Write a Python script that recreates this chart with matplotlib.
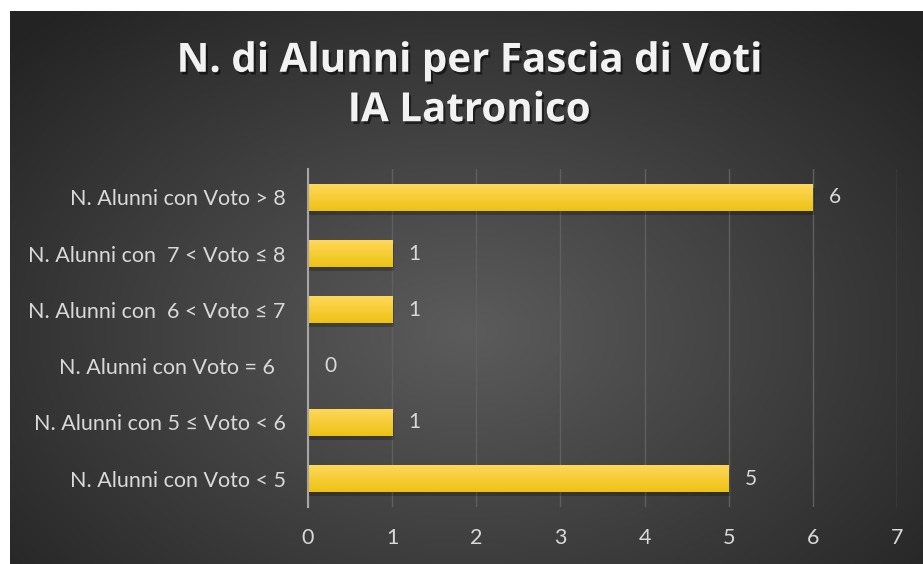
import numpy as np
import matplotlib.pyplot as plt
from matplotlib import patheffects as pe

categories = ['N. Alunni con Voto < 5', 'N. Alunni con 5 ≤ Voto < 6',
              'N. Alunni con Voto = 6  ', 'N. Alunni con  6 < Voto ≤ 7',
              'N. Alunni con  7 < Voto ≤ 8', 'N. Alunni con Voto > 8']
values = [5, 1, 0, 1, 1, 6]
x_ticks = [0, 1, 2, 3, 4, 5, 6, 7]
title = 'N. di Alunni per Fascia di Voti\nIA Latronico'

plt.rcParams['font.family'] = ['Lato', 'DejaVu Sans']

fig = plt.figure(figsize=(9.23, 5.64), dpi=100)
fig.patch.set_facecolor('white')

# radial gradient background (dark chart area, white margin top/left)
bg = fig.add_axes([10 / 923, 0, 913 / 923, 553 / 564])
bg.set_axis_off()
yy, xx = np.mgrid[0:1:300j, 0:1:500j]
r = np.sqrt(((xx - 0.5) / 0.8) ** 2 + ((yy - 0.42) / 0.9) ** 2)
shade = np.clip(0.36 - 0.26 * r, 0.14, 0.36)
bg.imshow(np.dstack([shade] * 3), aspect='auto', extent=[0, 1, 0, 1],
          origin='lower', interpolation='bicubic')
bg.set_xlim(0, 1)
bg.set_ylim(0, 1)

ax = fig.add_axes([308 / 923, 1 - 507 / 564, 589 / 923, 338 / 564])
ax.set_facecolor('none')
ypos = np.arange(len(categories))
bars = ax.barh(ypos, values, height=0.48, color='#F8CB1E', zorder=3)

# vertical gold gradient on each bar, soft shadow underneath
grad = np.linspace(0, 1, 50)[:, None]
top = np.array([1.0, 0.85, 0.36])
bot = np.array([0.93, 0.76, 0.08])
cols = bot + (top - bot) * grad
for b in bars:
    if b.get_width() == 0:
        continue
    x0, y0 = b.get_x(), b.get_y()
    w, h = b.get_width(), b.get_height()
    ax.fill_between([x0, x0 + w + 0.02], y0 - 0.07, y0 + h - 0.07,
                    color='black', alpha=0.22, linewidth=0, zorder=2)
    im = ax.imshow(cols[:, None, :], extent=[x0, x0 + w, y0, y0 + h],
                   origin='lower', aspect='auto', zorder=3.5)
    im.set_clip_path(b)

for y, v in zip(ypos, values):
    ax.text(v + 0.19, y, str(v), va='center', ha='left', fontsize=15,
            color='#D9D9D9')

ax.set_xlim(0, 7)
ax.set_ylim(-0.5, len(categories) - 0.5)
ax.set_xticks(x_ticks)
ax.set_yticks(ypos)
ax.set_yticklabels(categories)
ax.tick_params(axis='both', length=0, colors='#D9D9D9', labelsize=15.5)
ax.tick_params(axis='x', pad=15)
ax.tick_params(axis='y', pad=16)
ax.xaxis.grid(True, color='#5F5F5F', linewidth=1, zorder=0)
ax.set_axisbelow(True)
for s in ['top', 'right', 'bottom']:
    ax.spines[s].set_visible(False)
ax.spines['left'].set_color('#A6A6A6')
ax.spines['left'].set_linewidth(1.5)
ax.spines['left'].set_zorder(4)

fig.text(0.508, 1 - 86 / 564, title, ha='center', va='center', fontsize=29,
         fontweight='bold', color='#F2F2F2', family=['Open Sans', 'DejaVu Sans'],
         linespacing=1.35,
         path_effects=[pe.withSimplePatchShadow(offset=(1.5, -2), shadow_rgbFace='black',
                                                alpha=0.5)])

fig.savefig('out.png', dpi=100)
